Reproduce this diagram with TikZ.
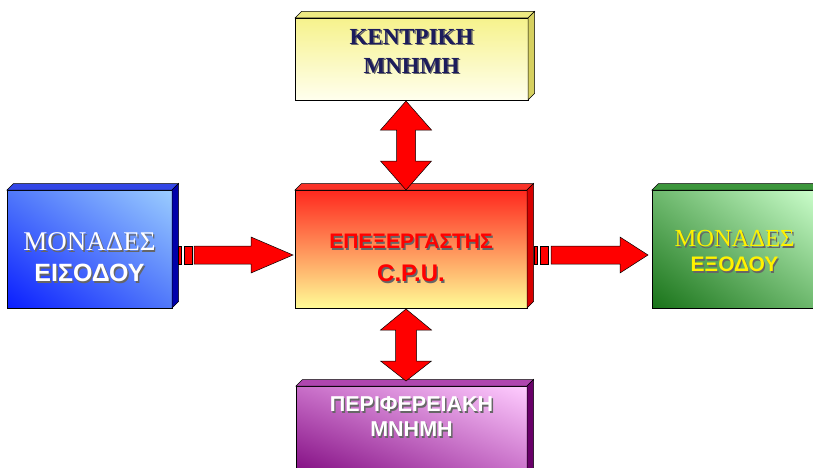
\documentclass[tikz,border=0pt]{standalone}
\usepackage{fontspec}
\setmainfont{Liberation Serif}
\newfontfamily\sansfont{Liberation Sans}
\usetikzlibrary{calc,positioning,shadings}

\definecolor{memhi}{RGB}{246,242,140}
\definecolor{memlo}{RGB}{255,255,238}
\definecolor{memtop}{RGB}{238,234,130}
\definecolor{memside}{RGB}{214,208,96}
\definecolor{memtxt}{RGB}{28,28,92}
\definecolor{cpuhi}{RGB}{255,40,30}
\definecolor{cpulo}{RGB}{255,252,150}
\definecolor{cputop}{RGB}{250,50,40}
\definecolor{cpuside}{RGB}{215,0,0}
\definecolor{inlo}{RGB}{10,30,255}
\definecolor{inmid}{RGB}{80,120,250}
\definecolor{inhi}{RGB}{155,205,255}
\definecolor{intop}{RGB}{50,70,230}
\definecolor{inside}{RGB}{0,0,170}
\definecolor{outlo}{RGB}{25,115,25}
\definecolor{outmid}{RGB}{110,185,110}
\definecolor{outhi}{RGB}{205,255,205}
\definecolor{outtop}{RGB}{60,150,60}
\definecolor{outside}{RGB}{30,120,30}
\definecolor{perlo}{RGB}{128,10,128}
\definecolor{permid}{RGB}{200,110,200}
\definecolor{perhi}{RGB}{255,205,255}
\definecolor{pertop}{RGB}{175,70,175}
\definecolor{perside}{RGB}{105,0,105}
\definecolor{arrowred}{RGB}{255,0,0}

% text with a small drop shadow
\newcommand\shtxt[2]{\leavevmode\rlap{\kern1.4pt\raisebox{-1.4pt}{\color{black!60}#2}}{\color{#1}#2}}

\tikzset{
  box/.style={rectangle, draw=black, line width=0.6pt, inner sep=0pt, outer sep=0pt},
  lbl/.style={align=center, inner sep=0pt},
  blockarrow/.style={fill=arrowred, draw=black, line width=0.5pt, line join=miter},
}

\begin{document}
\begin{tikzpicture}[x=1pt,y=1pt]
    \clip (0,0) rectangle (813,467);

    % Boxes
    \node[box, minimum width=233pt, minimum height=82pt,
          top color=memhi, bottom color=memlo] (mem) at (411.5,408) {};
    \node[box, minimum width=232pt, minimum height=118pt,
          top color=cpuhi, bottom color=cpulo] (cpu) at (411,218) {};
    \node[box, minimum width=165pt, minimum height=118pt,
          lower left=inlo, upper right=inhi, upper left=inmid, lower right=inmid] (in) at (89.5,218) {};
    \node[box, minimum width=165pt, minimum height=118pt,
          lower left=outlo, upper right=outhi, upper left=outmid, lower right=outmid] (out) at (734.5,218) {};
    \node[box, minimum width=231pt, minimum height=90pt,
          lower left=perlo, upper right=perhi, upper left=permid, lower right=permid] (per) at (411.5,36) {};

    % 3D edges
    \foreach \n/\tc/\sc in {mem/memtop/memside, cpu/cputop/cpuside, in/intop/inside,
                            out/outtop/outside, per/pertop/perside} {
        \filldraw[fill=\tc, draw=black, line width=0.5pt]
            (\n.north west) -- ++(6.5,6.5) -- ([shift={(6.5,6.5)}]\n.north east) -- (\n.north east) -- cycle;
        \filldraw[fill=\sc, draw=black, line width=0.5pt]
            (\n.north east) -- ++(6.5,6.5) -- ([shift={(6.5,6.5)}]\n.south east) -- (\n.south east) -- cycle;
    }

    % Labels
    \node[lbl, font=\fontsize{23}{29}\selectfont\bfseries] (mem-t) at ([yshift=7]mem.center)
        {\shtxt{memtxt}{ΚΕΝΤΡΙΚΗ}\\\shtxt{memtxt}{ΜΝΗΜΗ}};
    \node[lbl, font=\fontsize{21}{33}\selectfont\sansfont\bfseries] (cpu-t) at ([yshift=-10]cpu.center)
        {\shtxt{arrowred}{ΕΠΕΞΕΡΓΑΣΤΗΣ}\\
         \fontsize{24}{33}\selectfont\shtxt{arrowred}{C.P.U.}};
    \node[lbl, font=\fontsize{27}{31}\selectfont] (in-t) at ([yshift=-9]in.center)
        {\shtxt{white}{ΜΟΝΑΔΕΣ}\\
         \fontsize{25}{31}\selectfont\sansfont\bfseries\shtxt{white}{ΕΙΣΟΔΟΥ}};
    \node[lbl, font=\fontsize{24.5}{25}\selectfont] (out-t) at ([yshift=-3]out.center)
        {\shtxt{yellow}{ΜΟΝΑΔΕΣ}\\
         \fontsize{21}{25}\selectfont\sansfont\bfseries\shtxt{yellow}{ΕΞΟΔΟΥ}};
    \node[lbl, font=\fontsize{21.5}{25}\selectfont\sansfont\bfseries] (per-t) at ([yshift=13.5]per.center)
        {\shtxt{white}{ΠΕΡΙΦΕΡΕΙΑΚΗ}\\\shtxt{white}{ΜΝΗΜΗ}};

    % Connectors
    \coordinate (t1) at ([xshift=-5.5,yshift=-1]mem.south);
    \coordinate (t2) at ([xshift=-5]cpu.north);
    \draw[blockarrow] (t1) -- ++(25.5,-29) -- ++(-16,0) -- ($(t2)+(9.5,29)$) -- ++(16,0) -- (t2)
        -- ++(-25.5,29) -- ++(16,0) -- ($(t1)+(-9.5,-29)$) -- ++(-16,0) -- cycle;

    \coordinate (t3) at ([xshift=-5,yshift=-1]cpu.south);
    \coordinate (t4) at ([xshift=-5.5,yshift=5]per.north);
    \draw[blockarrow] (t3) -- ++(25.5,-21) -- ++(-15,0) -- ($(t4)+(10.5,20)$) -- ++(15,0) -- (t4)
        -- ++(-25.5,20) -- ++(15,0) -- ($(t3)+(-10.5,-21)$) -- ++(-15,0) -- cycle;

    \coordinate (s1) at ([shift={(6,-6)}]in.east);
    \coordinate (e1) at ([shift={(-2,-6)}]cpu.west);
    \draw[blockarrow] ($(s1)+(0,-9)$) rectangle ++(3,18);
    \draw[blockarrow] ($(s1)+(6,-9)$) rectangle ++(8,18);
    \draw[blockarrow] ($(s1)+(16,-9)$) -- ($(e1)+(-42,-9)$) -- ++(0,-9) -- (e1) -- ++(-42,18)
        -- ++(0,-9) -- ($(s1)+(16,9)$) -- cycle;

    \coordinate (s2) at ([shift={(7,-6)}]cpu.east);
    \coordinate (e2) at ([shift={(-4,-6)}]out.west);
    \draw[blockarrow] ($(s2)+(0,-9)$) rectangle ++(3,18);
    \draw[blockarrow] ($(s2)+(6,-9)$) rectangle ++(8,18);
    \draw[blockarrow] ($(s2)+(17,-9)$) -- ($(e2)+(-28,-9)$) -- ++(0,-9) -- (e2) -- ++(-28,18)
        -- ++(0,-9) -- ($(s2)+(17,9)$) -- cycle;
\end{tikzpicture}
\end{document}
